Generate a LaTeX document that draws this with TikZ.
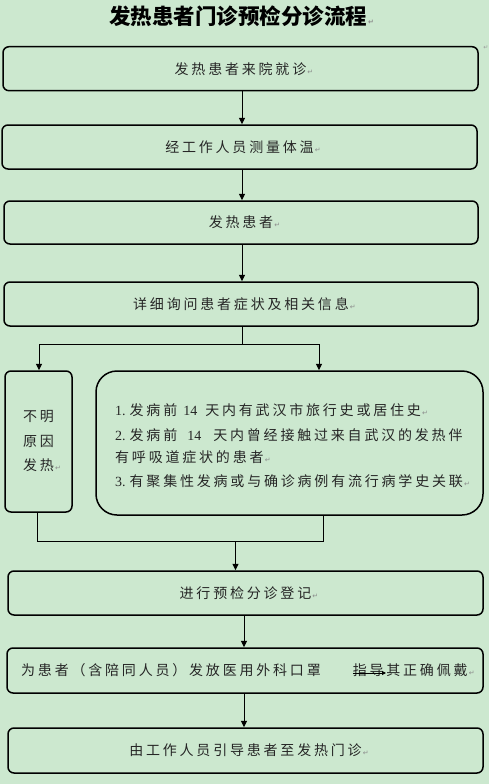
\documentclass[tikz,border=0pt]{standalone}
\usepackage{fontspec}
\usetikzlibrary{arrows.meta}
\newfontfamily\cjk[LetterSpace=20]{Noto Sans CJK SC}
\newfontfamily\cjktitle{Noto Sans CJK SC}
\newfontfamily\lat{Liberation Serif}
\newfontfamily\symfont{DejaVu Sans}
\definecolor{bg}{RGB}{204,232,207}
\newcommand{\retmark}{\rlap{\symfont\fontsize{7}{7}\selectfont\color{black!45}\,↵}}
\newcommand{\bodyfont}{\cjk\fontsize{14}{16}\selectfont}
\begin{document}
\begin{tikzpicture}[x=1pt,y=-1pt,
  box/.style={draw=black, line width=1.5pt, rounded corners=6pt, inner sep=0pt, text=black!85, font=\bodyfont},
  txt/.style={inner sep=0pt, text=black!85, font=\bodyfont},
  conn/.style={draw=black, line width=0.9pt},
  arr/.style={conn, -{Triangle[length=6.5pt,width=6pt]}}]
\fill[bg] (0,0) rectangle (489,784);
\useasboundingbox (0,0) rectangle (489,784);

% title
\node[inner sep=0pt, font={\cjktitle\bfseries\fontsize{21.5}{23}\selectfont}] (title) at (238,16) {发热患者门诊预检分诊流程\retmark};
\node[inner sep=0pt, font={\symfont\fontsize{6}{6}\selectfont}, text=black!40] (anchor) at (486,48) {↵};

% main boxes
\node[box, minimum width=475pt, minimum height=44pt] (b1) at (240.5,68.7) {发热患者来院就诊\retmark};
\node[box, minimum width=475pt, minimum height=44pt] (b2) at (239.5,147) {经工作人员测量体温\retmark};
\node[box, minimum width=474pt, minimum height=43pt] (b3) at (241,222.5) {发热患者\retmark};
\node[box, minimum width=474pt, minimum height=44pt] (b4) at (241,304) {详细询问患者症状及相关信息\retmark};

% branch boxes
\node[box, minimum width=67pt, minimum height=141pt, align=center, font={\cjk\fontsize{14}{24.5}\selectfont}] (lb) at (38.5,441.5) {不明\\原因\\发热\retmark};
\node[box, rounded corners=21pt, minimum width=387pt, minimum height=144pt] (rb) at (289.5,443) {};

\node[txt, anchor=base west] (r1) at (115,415) {{\lat\fontsize{14}{16}\selectfont 1.}\hspace{4pt}发病前\hspace{6pt}{\lat\fontsize{14}{16}\selectfont 14}\hspace{8pt}天内有武汉市旅行史或居住史\retmark};
\node[txt, anchor=base west] (r2) at (115,440) {{\lat\fontsize{14}{16}\selectfont 2.}\hspace{4pt}发病前\hspace{10pt}{\lat\fontsize{14}{16}\selectfont 14}\hspace{12pt}天内曾经接触过来自武汉的发热伴};
\node[txt, anchor=base west] (r3) at (115,462) {有呼吸道症状的患者\retmark};
\node[txt, anchor=base west] (r4) at (115,486) {{\lat\fontsize{14}{16}\selectfont 3.}\hspace{4pt}有聚集性发病或与确诊病例有流行病学史关联\retmark};

% lower boxes
\node[box, minimum width=475pt, minimum height=44pt] (b5) at (245.5,593) {进行预检分诊登记\retmark};
\node[box, minimum width=476pt, minimum height=45pt] (b6) at (245,670.5) {};
\node[txt, anchor=west] (b6t) at (21,670.5) {为患者（含陪同人员）发放医用外科口罩\hspace{32pt}指导其正确佩戴\retmark};
\node[box, minimum width=475pt, minimum height=45pt] (b7) at (245.5,750.5) {由工作人员引导患者至发热门诊\retmark};

% connectors
\coordinate (cx) at (242,0);
\draw[arr] (b1.south -| cx) -- (b2.north -| cx);
\draw[arr] (b2.south -| cx) -- (b3.north -| cx);
\draw[arr] (b3.south -| cx) -- (b4.north -| cx);

\coordinate (sp) at (242,344);
\coordinate (sl) at (39,344);
\coordinate (sr) at (319,344);
\draw[conn] (b4.south -| sp) -- (sp);
\draw[conn] (sl) -- (sr);
\draw[arr] (sl) -- (lb.north -| sl);
\draw[arr] (sr) -- (rb.north -| sr);

\coordinate (ml) at (37,541);
\coordinate (mr) at (323,541);
\coordinate (mm) at (235.5,541);
\draw[conn] (lb.south -| ml) -- (ml) -- (mr) -- (rb.south -| mr);
\draw[arr] (mm) -- (b5.north -| mm);

\coordinate (cy) at (244,0);
\draw[arr] (b5.south -| cy) -- (b6.north -| cy);
\draw[arr] (b6.south -| cy) -- (b7.north -| cy);

% stray stroke over the text in box 6
\coordinate (s1) at (353,673);
\coordinate (s2) at (386,673);
\draw[line width=0.9pt, -{Triangle[length=4pt,width=4pt]}] (s1) -- (s2);
\end{tikzpicture}
\end{document}
